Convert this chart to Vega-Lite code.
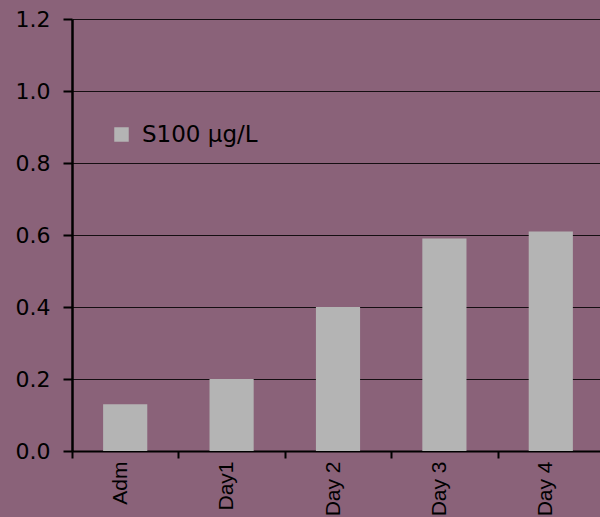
{
  "$schema": "https://vega.github.io/schema/vega-lite/v6.json",
  "autosize": {"type": "none"},
  "width": 528,
  "height": 432,
  "padding": {"left": 72, "top": 19, "right": 0, "bottom": 66},
  "background": "#8A6279",
  "config": {
    "view": {"stroke": null},
    "font": "Liberation Sans"
  },
  "data": {
    "values": [
      {"day": "Adm", "s100": 0.13},
      {"day": "Day1", "s100": 0.2},
      {"day": "Day 2", "s100": 0.4},
      {"day": "Day 3", "s100": 0.59},
      {"day": "Day 4", "s100": 0.61}
    ]
  },
  "mark": {"type": "bar", "width": {"band": 0.415}},
  "encoding": {
    "x": {
      "field": "day",
      "type": "nominal",
      "sort": null,
      "title": null,
      "scale": {"range": [0, 532], "paddingInner": 0, "paddingOuter": 0},
      "axis": {
        "labelAngle": -90,
        "labelFont": "Liberation Sans",
        "labelFontSize": 21,
        "labelColor": "#000000",
        "labelPadding": 3,
        "labelOffset": -5,
        "tickBand": "extent",
        "tickColor": "#000000",
        "tickSize": 7,
        "tickWidth": 2,
        "domainColor": "#000000",
        "domainWidth": 2,
        "grid": false
      }
    },
    "y": {
      "field": "s100",
      "type": "quantitative",
      "title": null,
      "scale": {"domain": [0, 1.2], "nice": false},
      "axis": {
        "values": [0, 0.2, 0.4, 0.6, 0.8, 1.0, 1.2],
        "format": ".1f",
        "labelFont": "DejaVu Sans",
        "labelFontSize": 22,
        "labelColor": "#000000",
        "labelPadding": 13,
        "tickColor": "#000000",
        "tickSize": 9,
        "tickWidth": 2,
        "domainColor": "#000000",
        "domainWidth": 2.5,
        "grid": true,
        "gridColor": "#000000",
        "gridWidth": 1,
        "gridOpacity": 0.85
      }
    },
    "color": {
      "datum": "S100 µg/L",
      "type": "nominal",
      "scale": {"range": ["#B4B4B4"]},
      "legend": {
        "title": null,
        "orient": "none",
        "legendX": 38,
        "legendY": 104,
        "symbolType": "square",
        "symbolSize": 210,
        "symbolStrokeWidth": 0,
        "symbolOpacity": 1,
        "labelFont": "DejaVu Sans",
        "labelFontSize": 23,
        "labelColor": "#000000",
        "labelOffset": 9
      }
    }
  }
}
